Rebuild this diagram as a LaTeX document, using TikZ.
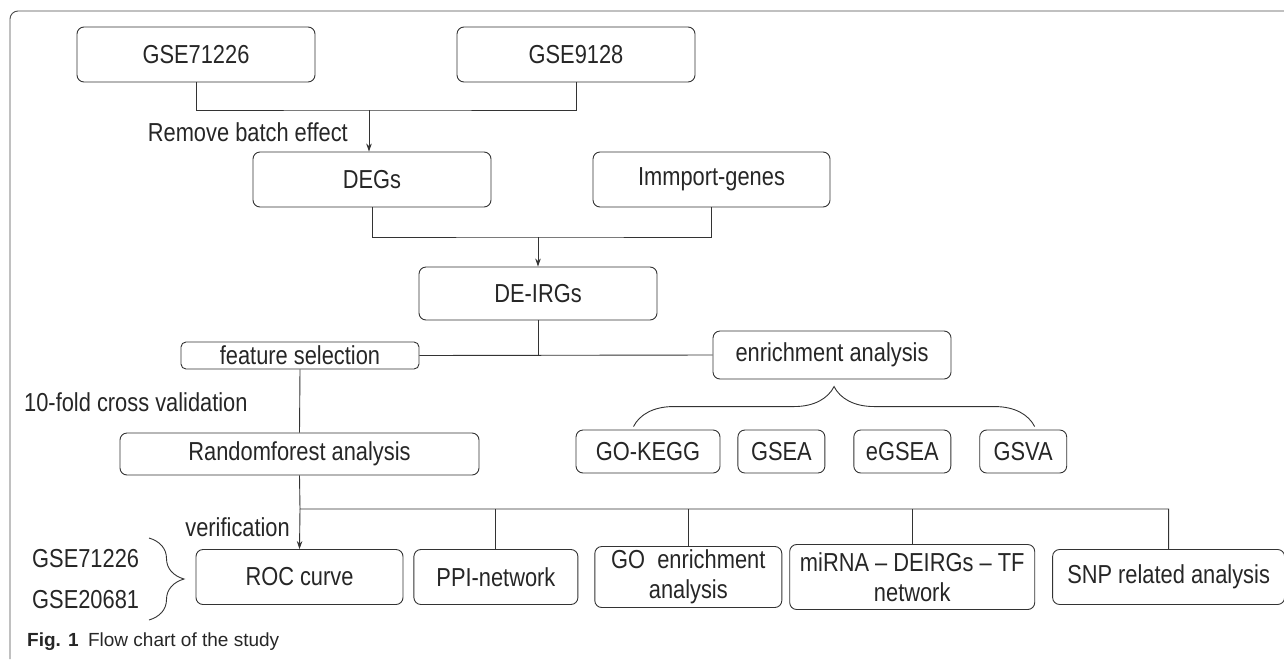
\documentclass[tikz,border=0pt]{standalone}
\usepackage{fontspec}
\setmainfont{Liberation Sans}[FakeStretch=0.84]
\newfontfamily\capfont{Liberation Sans}
\usetikzlibrary{positioning,arrows.meta,calc,decorations.pathreplacing}
\tikzset{
  >={Stealth[length=8pt, width=5.5pt]},
  proc/.style={draw=black!80, line width=0.9pt, rounded corners=7pt, inner sep=0pt,
    align=center, text=black!85, font=\fontsize{26}{30}\selectfont},
  link/.style={draw=black!80, line width=0.9pt},
  note/.style={inner sep=0pt, text=black!85, font=\fontsize{26}{30}\selectfont},
  curly/.style={draw=black!80, line width=0.9pt, decorate},
}

\begin{document}
\begin{tikzpicture}[x=1pt, y=-1pt]
  \useasboundingbox (0,0) rectangle (1284,659);
  \draw[link, draw=black!70, rounded corners=8pt] (10,659) -- (10,11) -- (1284,11);

  % data sets
  \node[proc, minimum width=238pt, minimum height=55pt] (gse1) at (196,54.5) {GSE71226};
  \node[proc, minimum width=238pt, minimum height=55pt] (gse2) at (576,54.5) {GSE9128};
  \node[proc, minimum width=238pt, minimum height=55pt] (degs) at (372,179.5) {DEGs};
  \node[proc, minimum width=237pt, minimum height=55pt] (immport) at (711.5,179.5) {Immport-genes};
  \node[proc, minimum width=238pt, minimum height=53pt] (deirgs) at (538,293.5) {DE-IRGs};

  % two branches
  \node[proc, minimum width=238pt, minimum height=27pt, rounded corners=5pt] (featsel) at (300,355.5) {feature selection};
  \node[proc, minimum width=238pt, minimum height=48pt] (enrich) at (832,355) {enrichment analysis};
  \node[proc, minimum width=359pt, minimum height=42pt] (rf) at (299.5,454) {Randomforest analysis};

  \node[proc, minimum width=144pt, minimum height=43pt] (gokegg) at (648,451.5) {GO-KEGG};
  \node[proc, minimum width=87pt, minimum height=43pt] (gsea) [right=17pt of gokegg] {GSEA};
  \node[proc, minimum width=97pt, minimum height=43pt] (egsea) [right=28pt of gsea] {eGSEA};
  \node[proc, minimum width=87pt, minimum height=43pt] (gsva) [right=28pt of egsea] {GSVA};

  % results
  \node[proc, minimum width=207pt, minimum height=55pt] (roc) at (299.5,577) {ROC curve};
  \node[proc, minimum width=164pt, minimum height=55pt] (ppi) [right=10pt of roc] {PPI-network};
  \node[proc, minimum width=187pt, minimum height=61pt] (goenr) [right=16pt of ppi]
    {GO~~enrichment\\analysis};
  \node[proc, minimum width=245pt, minimum height=65pt] (mirna) [right=7pt of goenr]
    {miRNA -- DEIRGs -- TF\\network};
  \node[proc, minimum width=232pt, minimum height=55pt] (snp) [right=17pt of mirna] {SNP related analysis};

  % side texts
  \node[note, anchor=base east] (batch) at (348,141) {Remove batch effect};
  \node[note, anchor=base west] (cv) at (24,411) {10-fold cross validation};
  \node[note, anchor=base east] (verif) at (290,536) {verification};
  \node[note, anchor=base west] (val1) at (32,567) {GSE71226};
  \node[note, anchor=base west] (val2) at (32,608) {GSE20681};
  \node[anchor=base west, inner sep=0pt, text=black!85, font=\capfont\fontsize{19}{22}\selectfont] (cap) at (27,646)
    {\textbf{Fig. 1}\enspace Flow chart of the study};

  % junctions
  \coordinate (j1) at (369,110);
  \coordinate (j2) at (538,237);
  \coordinate (j3) at (538,355);
  \coordinate (j4) at (300,509);

  \draw[link] (gse1.south) |- (j1) -| (gse2.south);
  \draw[link, ->] (j1) -- (degs.north -| j1);
  \draw[link] (degs.south) |- (j2) -| (immport.south);
  \draw[link, ->] (j2) -- (deirgs.north);
  \draw[link] (deirgs.south) -- (j3);
  \draw[link] (featsel.east) -- (enrich.west);
  \draw[link] (featsel.south) -- (rf.north);
  \draw[link] (rf.south) -- (j4) -- (j4 -| snp.north) -- (snp.north);
  \draw[link, ->] (j4) -- (roc.north);
  \draw[link] (j4 -| ppi.north) -- (ppi.north);
  \draw[link] (j4 -| goenr.north) -- (goenr.north);
  \draw[link] (j4 -| mirna.north) -- (mirna.north);

  % braces
  \draw[curly, decoration={brace, amplitude=40pt}]
    ($(gokegg.north west)!0.4!(gokegg.north east)+(0,-3)$) -- ($(gsva.north west)!0.63!(gsva.north east)+(0,-3)$);
  \draw[curly, decoration={brace, amplitude=35pt}] (149,538) -- (149,620);
\end{tikzpicture}
\end{document}
